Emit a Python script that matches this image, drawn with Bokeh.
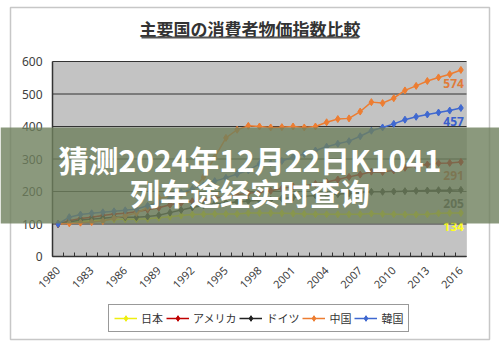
import math
from bokeh.plotting import figure
from bokeh.models import (Range1d, FixedTicker, BoxAnnotation, Label, Legend,
                          LegendItem, ColumnDataSource)
from bokeh.embed import file_html
from bokeh.resources import INLINE
from bokeh.core.properties import value

# ---------------- data ----------------
years = list(range(1980, 2017))
japan = [100, 105, 108, 110, 112, 114, 115, 115, 116, 119,
         122, 126, 129, 130, 131, 131, 131, 134, 134, 134,
         133, 132, 131, 130, 130, 130, 130, 130, 132, 131,
         130, 129, 129, 130, 133, 134, 134]
usa = [100, 110, 117, 121, 126, 131, 133, 138, 144, 150,
       159, 165, 170, 175, 180, 185, 190, 195, 198, 202,
       209, 215, 218, 223, 229, 237, 245, 252, 261, 260,
       265, 273, 279, 283, 287, 288, 291]
germany = [100, 106, 112, 115, 118, 121, 121, 121, 123, 127,
           135, 143, 151, 157, 162, 165, 168, 171, 173, 175,
           178, 182, 185, 188, 190, 192, 194, 196, 199, 199,
           200, 201, 202, 203, 204, 204, 205]
china = [100, 102, 104, 106, 109, 118, 125, 134, 150, 180,
         184, 190, 202, 245, 305, 365, 390, 402, 400, 397,
         398, 400, 397, 400, 413, 423, 425, 446, 475, 472,
         487, 511, 525, 540, 551, 561, 574]
korea = [100, 121, 129, 133, 136, 139, 142, 146, 156, 165,
         179, 196, 208, 218, 232, 242, 254, 265, 285, 287,
         294, 306, 315, 326, 338, 347, 355, 370, 387, 397,
         408, 421, 430, 437, 443, 449, 457]
series_names = ["日本", "アメリカ", "ドイツ", "中国", "韓国"]
x_tick_years = [1980, 1983, 1986, 1989, 1992, 1995, 1998, 2001, 2004, 2007, 2010, 2013, 2016]
x_tick_labels = ["1980", "1983", "1986", "1989", "1992", "1995", "1998",
                 "2001", "2004", "2007", "2010", "2013", "2016"]
y_ticks = [0, 100, 200, 300, 400, 500, 600]
title_text = "主要国の消費者物価指数比較"
banner_lines = ["猜测2024年12月22日K1041", "列车途经实时查询"]

# ---------------- style / layout ----------------
line_colors = ["#eeee10", "#c00000", "#222222", "#ed7d31", "#3f68d0"]
label_colors = ["#ffff20", "#b5502d", "#3a3a3a", "#e07b39", "#3a5fcd"]
all_series = [japan, usa, germany, china, korea]

W, H = 499, 350
PL, PR, PT, PB = 52, 466, 61, 256  # plot area in canvas pixels

x0, x1 = years[0] - 0.5, years[-1] + 0.5
y0, y1 = y_ticks[0], y_ticks[-1]
kx = (PR - PL) / (x1 - x0)
ky = (PB - PT) / (y1 - y0)
x_range = Range1d(x0 - PL / kx, x1 + (W - PR) / kx)
y_range = Range1d(y0 - (H - PB) / ky, y1 + PT / ky)


def sy(cy):  # canvas y (top-down) -> screen y (bottom-up)
    return H - cy


p = figure(width=W, height=H, output_backend="svg", toolbar_location=None,
           x_range=x_range, y_range=y_range, min_border=0,
           min_border_left=0, min_border_right=0, min_border_top=0,
           min_border_bottom=0)
p.title.visible = False
p.background_fill_color = "white"
p.border_fill_color = "white"
p.outline_line_color = None
p.xgrid.visible = False
p.ygrid.visible = False

# gray plot area
p.add_layout(BoxAnnotation(left=x0, right=x1, bottom=y0, top=y1,
                           fill_color="#c3c3c3", fill_alpha=1,
                           line_color="#9a9a9a", line_width=1, level="underlay"))
# horizontal gridlines
p.segment(x0=[x0] * len(y_ticks), x1=[x1] * len(y_ticks), y0=y_ticks, y1=y_ticks,
          line_color="#333333", line_width=1)

# axes (fixed at the plot-area edges)
xa = p.xaxis[0]
xa.fixed_location = y0
xa.bounds = (x0, x1)
xa.ticker = FixedTicker(ticks=x_tick_years,
                        minor_ticks=[y + 0.5 for y in years[:-1]] + [x0])
xa.major_label_overrides = {y: l for y, l in zip(x_tick_years, x_tick_labels)}
xa.major_label_orientation = math.pi / 4
xa.major_tick_in = 0
xa.major_tick_out = 0
xa.minor_tick_in = 4
xa.minor_tick_out = 0
xa.minor_tick_line_color = "#333333"
xa.axis_line_color = "#333333"
xa.axis_line_width = 1.5
xa.major_label_text_font = "Noto Sans"
xa.major_label_text_font_size = "11px"
xa.major_label_text_color = "#404040"
xa.major_label_standoff = 12

ya = p.yaxis[0]
ya.fixed_location = x0
ya.bounds = (y0, y1)
ya.ticker = FixedTicker(ticks=y_ticks)
ya.major_tick_in = 0
ya.major_tick_out = 0
ya.minor_tick_in = 0
ya.minor_tick_out = 0
ya.axis_line_color = "#333333"
ya.axis_line_width = 1.5
ya.major_label_text_font = "Noto Sans"
ya.major_label_text_font_size = "12px"
ya.major_label_text_color = "#404040"
ya.major_label_standoff = 10

# series
items = []
for name, vals, col in zip(series_names, all_series, line_colors):
    src = ColumnDataSource(dict(x=years, y=vals))
    lr = p.line("x", "y", source=src, line_color=col, line_width=1.5)
    mr = p.scatter("x", "y", source=src, marker="diamond", size=7,
                   fill_color=col, line_color=col)
    items.append(LegendItem(label=name, renderers=[lr, mr]))

# end labels
lab_src = ColumnDataSource(dict(
    x=[years[-1]] * len(all_series),
    y=[s[-1] for s in all_series],
    t=[str(s[-1]) for s in all_series],
    c=label_colors))
p.text("x", "y", text="t", source=lab_src, text_color="c",
       text_font=value("Noto Sans"), text_font_size="12px",
       text_font_style="bold", text_align="right", text_baseline="middle",
       x_offset=3, y_offset=14)

legend = Legend(items=items, location=(108, sy(332)), orientation="horizontal",
                glyph_width=23, glyph_height=14, label_height=14,
                label_standoff=4, spacing=3, padding=5,
                label_text_font="Noto Sans CJK JP", label_text_font_size="11px",
                label_text_color="#333333",
                border_line_color="#333333", border_line_width=1.2,
                background_fill_color="white", background_fill_alpha=1)
p.add_layout(legend)

# outer chart frame
p.add_layout(BoxAnnotation(left=10, right=489, top=sy(7), bottom=sy(339),
                           left_units="screen", right_units="screen",
                           top_units="screen", bottom_units="screen",
                           fill_alpha=0, line_color="#444444", line_width=1.5))

# title
p.add_layout(Label(x=249.5, y=sy(27.5), x_units="screen", y_units="screen",
                   text=title_text, text_align="center", text_baseline="middle",
                   text_font="Noto Sans CJK JP", text_font_size="17px",
                   text_font_style="bold", text_color="#333333"))
p.add_layout(BoxAnnotation(left=141, right=358, top=sy(36), bottom=sy(38),
                           left_units="screen", right_units="screen",
                           top_units="screen", bottom_units="screen",
                           fill_color="#555555", fill_alpha=1, line_alpha=0))

# overlay banner
p.add_layout(BoxAnnotation(left=0, right=W, top=sy(127), bottom=sy(223),
                           left_units="screen", right_units="screen",
                           top_units="screen", bottom_units="screen",
                           fill_color="#6e805d", fill_alpha=0.8, line_alpha=0))
for txt, cy in zip(banner_lines, [158, 191]):
    p.add_layout(Label(x=249.5, y=sy(cy), x_units="screen", y_units="screen",
                       text=txt, text_align="center", text_baseline="middle",
                       text_font="Noto Sans CJK SC", text_font_size="30px",
                       text_font_style="bold", text_color="white"))

open("out.html", "w").write(file_html(p, INLINE))
